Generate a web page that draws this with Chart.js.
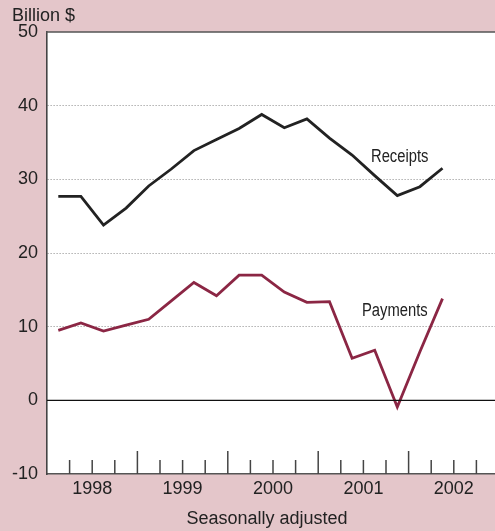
<!DOCTYPE html>
<html>
<head>
<meta charset="utf-8">
<script src="https://cdn.jsdelivr.net/npm/chart.js@4/dist/chart.umd.min.js"></script>
<style>
  html, body { margin: 0; padding: 0; background: #e4c6ca; overflow: hidden; }
  #wrap { width: 500px; height: 531px; }
</style>
</head>
<body>
<div id="wrap"><canvas id="chart" width="500" height="531"></canvas></div>
<script>
// quarterly, 1998 Q1 .. 2002 Q2
const quarters = ['1998 Q1', '1998 Q2', '1998 Q3', '1998 Q4',
  '1999 Q1', '1999 Q2', '1999 Q3', '1999 Q4',
  '2000 Q1', '2000 Q2', '2000 Q3', '2000 Q4',
  '2001 Q1', '2001 Q2', '2001 Q3', '2001 Q4',
  '2002 Q1', '2002 Q2'];
const receipts = [27.7, 27.7, 23.8, 26.1, 29.1, 31.4, 33.9, 35.4, 36.9,
  38.8, 37.0, 38.2, 35.6, 33.3, 30.5, 27.8, 29.0, 31.5];
const payments = [9.5, 10.5, 9.4, 10.2, 11.0, 13.5, 16.0, 14.2, 17.0,
  17.0, 14.7, 13.3, 13.4, 5.7, 6.8, -0.9, 6.6, 13.8];
const years = ['1998', '1999', '2000', '2001', '2002'];
const yTicks = [-10, 0, 10, 20, 30, 40, 50];

const FONT = '"Liberation Sans", Arial, Helvetica, sans-serif';

// points sit in the middle of each quarter
const toPoints = arr => arr.map((v, i) => ({ x: i + 0.5, y: v }));

// narrow label: squeeze regular sans horizontally
function narrowText(ctx, txt, x, y) {
  ctx.save();
  ctx.translate(x, y);
  ctx.scale(0.82, 1);
  ctx.fillText(txt, 0, 0);
  ctx.restore();
}

const decor = {
  id: 'decor',
  beforeDraw(chart) {
    const { ctx, chartArea: a } = chart;
    ctx.save();
    ctx.fillStyle = '#ffffff';
    ctx.fillRect(a.left, a.top, a.right - a.left, a.bottom - a.top);
    ctx.restore();
  },
  afterDatasetsDraw(chart) {
    const { ctx, chartArea: a, scales: { x, y } } = chart;
    ctx.save();
    // zero line
    const y0 = y.getPixelForValue(0);
    ctx.strokeStyle = '#111';
    ctx.lineWidth = 1.3;
    ctx.beginPath();
    ctx.moveTo(a.left, y0);
    ctx.lineTo(a.right, y0);
    ctx.stroke();
    // top frame line
    ctx.strokeStyle = '#555';
    ctx.lineWidth = 1.6;
    ctx.beginPath();
    ctx.moveTo(a.left - 1, a.top);
    ctx.lineTo(a.right + 2, a.top);
    ctx.stroke();
    // quarter tick marks, pointing up into the plot
    ctx.strokeStyle = '#444';
    ctx.lineWidth = 1.5;
    for (let k = 1; k < 20; k++) {
      const px = x.getPixelForValue(k);
      const len = k % 4 === 0 ? 23 : 14;
      ctx.beginPath();
      ctx.moveTo(px, a.bottom);
      ctx.lineTo(px, a.bottom - len);
      ctx.stroke();
    }
    // texts
    ctx.fillStyle = '#222';
    ctx.font = '18px ' + FONT;
    ctx.textBaseline = 'alphabetic';
    ctx.textAlign = 'left';
    ctx.fillText('Billion $', 12, 21);
    ctx.textAlign = 'center';
    ctx.fillText('Seasonally adjusted', 267, 524);
    ctx.textAlign = 'left';
    narrowText(ctx, 'Receipts', 371, 162);
    narrowText(ctx, 'Payments', 362, 316);
    ctx.restore();
  }
};

new Chart(document.getElementById('chart'), {
  type: 'line',
  data: {
    labels: quarters,
    datasets: [
      {
        label: 'Receipts',
        data: toPoints(receipts),
        borderColor: '#222222',
        borderWidth: 2.8,
        pointRadius: 0,
        tension: 0
      },
      {
        label: 'Payments',
        data: toPoints(payments),
        borderColor: '#8b2644',
        borderWidth: 2.8,
        pointRadius: 0,
        tension: 0
      }
    ]
  },
  options: {
    responsive: false,
    animation: false,
    devicePixelRatio: 1,
    layout: { padding: { top: 32, right: 1, left: 0, bottom: 0 } },
    plugins: {
      legend: { display: false },
      tooltip: { enabled: false }
    },
    scales: {
      x: {
        type: 'linear',
        min: 0,
        max: 20,
        afterBuildTicks: s => { s.ticks = years.map((_, i) => ({ value: i * 4 + 2 })); },
        afterFit: s => { s.height = 57; },
        ticks: {
          callback: v => years[(v - 2) / 4],
          font: { size: 18, family: FONT },
          color: '#222',
          padding: 4,
          maxRotation: 0,
          autoSkip: false
        },
        grid: { display: false, drawTicks: false },
        border: { display: true, color: '#555', width: 1.6 }
      },
      y: {
        min: -10,
        max: 50,
        afterBuildTicks: s => { s.ticks = yTicks.map(v => ({ value: v })); },
        afterFit: s => { s.width = 47; },
        ticks: {
          font: { size: 18, family: FONT },
          color: '#222',
          padding: 9
        },
        grid: {
          drawTicks: false,
          color: c => (c.tick && c.tick.value > 0 && c.tick.value < 50) ? '#8a8a8a' : 'rgba(0,0,0,0)',
          lineWidth: 1
        },
        border: { display: true, color: '#444', width: 1.6, dash: [1, 2] }
      }
    }
  },
  plugins: [decor]
});
</script>
</body>
</html>
